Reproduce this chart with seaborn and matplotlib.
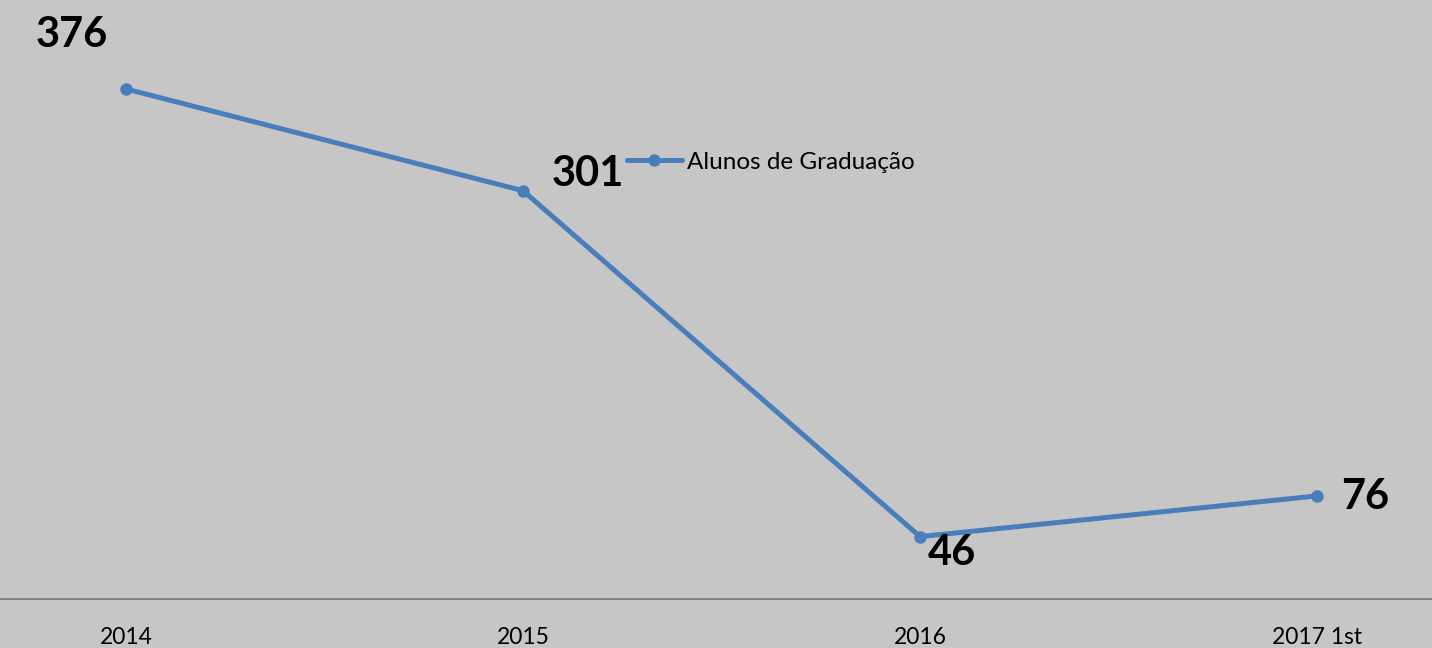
import matplotlib.pyplot as plt
import seaborn as sns
import pandas as pd

# data
years = ["2014", "2015", "2016", "2017 1st"]
alunos = [376, 301, 46, 76]
series_name = "Alunos de Graduação"

# label offsets in pixels (dx, dy) from each point
label_offsets = [(-54, 54), (65, 17), (32, -16), (48, -1)]

df = pd.DataFrame({"ano": years, "alunos": alunos})

sns.set_theme(style="white")
plt.rcParams["font.family"] = ["Lato", "DejaVu Sans"]

bg = "#c6c6c6"
line_color = "#4a7ebb"

fig = plt.figure(figsize=(14.32, 6.48), dpi=100, facecolor=bg)
ax = fig.add_axes([0, 49 / 648, 1, 599 / 648])
ax.set_facecolor(bg)

sns.lineplot(data=df, x="ano", y="alunos", ax=ax, sort=False,
             color=line_color, linewidth=3.6, marker="o", markersize=9,
             markeredgewidth=0, label=series_name)

for i, (v, (dx, dy)) in enumerate(zip(alunos, label_offsets)):
    ax.annotate(str(v), (i, v), xytext=(dx, dy), textcoords="offset pixels",
                ha="center", va="center", fontsize=30, fontweight="bold",
                color="black")

ax.set_xlim(-126 / 397, (1432 - 126) / 397)
ax.set_ylim(0, 441.6)
ax.set_xlabel("")
ax.set_ylabel("")
ax.set_yticks([])
ax.tick_params(axis="x", length=0, pad=20, labelsize=16.5, colors="black")

for s in ["top", "right", "left"]:
    ax.spines[s].set_visible(False)
ax.spines["bottom"].set_color("#7f7f7f")
ax.spines["bottom"].set_linewidth(1.3)

leg = ax.legend(loc="center left", bbox_to_anchor=(627 / 1432, 1 - 162 / 648),
                bbox_transform=fig.transFigure, frameon=False, fontsize=17.5,
                handlelength=2.25, handletextpad=0.2, borderpad=0,
                borderaxespad=0)
for line in leg.get_lines():
    line.set_linewidth(3.6)
for t in leg.get_texts():
    t.set_color("black")

fig.savefig("out.png", dpi=100, facecolor=bg)
